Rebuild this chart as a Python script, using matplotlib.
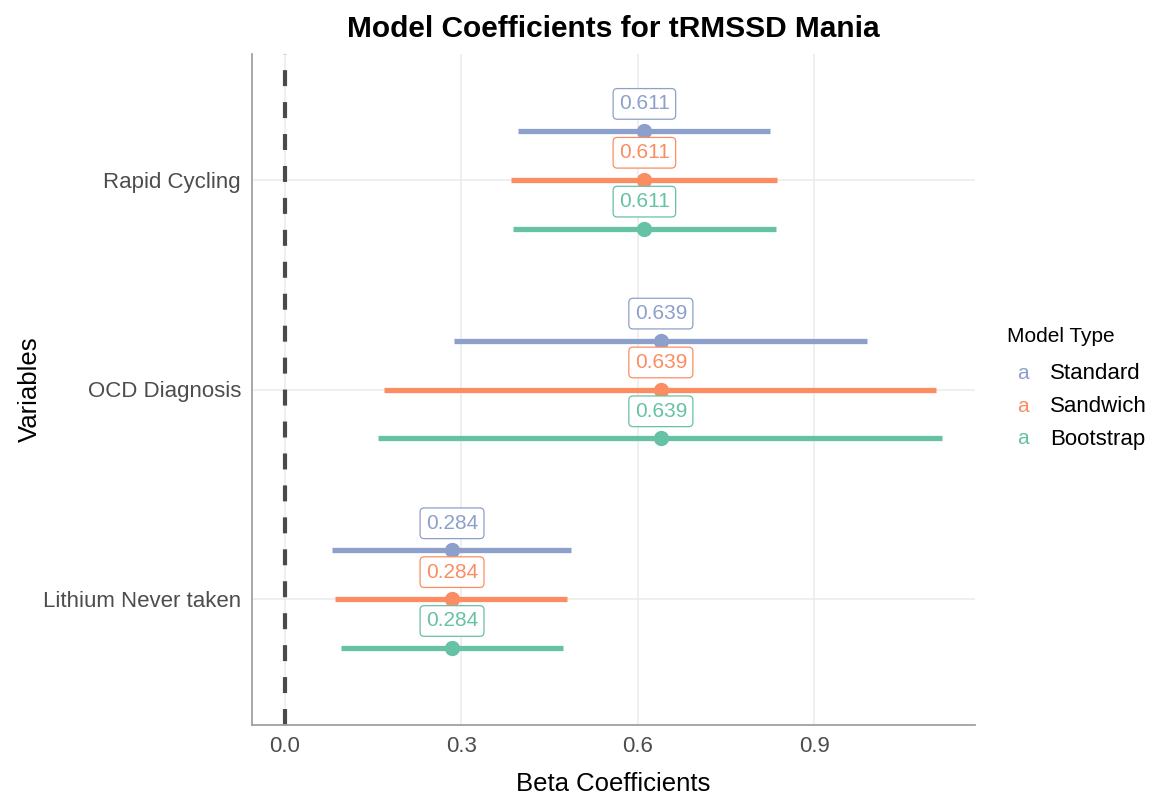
import matplotlib.pyplot as plt
import numpy as np

plt.rcParams['font.family'] = ['Liberation Sans', 'DejaVu Sans']
plt.rcParams['lines.scale_dashes'] = False

variables = ['Lithium Never taken', 'OCD Diagnosis', 'Rapid Cycling']
models = ['Standard', 'Sandwich', 'Bootstrap']
colors = {'Standard': '#8DA0CB', 'Sandwich': '#FC8D62', 'Bootstrap': '#66C2A5'}

# estimate per variable (same for all model types)
estimate = [0.284, 0.639, 0.611]
# confidence limits per model, in the order of `variables`
ci_low = {
    'Standard': [0.080, 0.287, 0.396],
    'Sandwich': [0.085, 0.168, 0.384],
    'Bootstrap': [0.095, 0.158, 0.387],
}
ci_high = {
    'Standard': [0.487, 0.990, 0.825],
    'Sandwich': [0.480, 1.107, 0.837],
    'Bootstrap': [0.472, 1.117, 0.834],
}

dodge = {'Standard': 0.233, 'Sandwich': 0.0, 'Bootstrap': -0.233}

fig = plt.figure(figsize=(11.57, 7.98), dpi=100)
ax = fig.add_axes([252 / 1157, 1 - 725 / 798, (975 - 252) / 1157, (725 - 54) / 798])

ypos = np.arange(1, len(variables) + 1)

# grid
for x in [0.0, 0.3, 0.6, 0.9]:
    ax.axvline(x, color='#EBEBEB', lw=1.1, zorder=0)
for y in ypos:
    ax.axhline(y, color='#EBEBEB', lw=1.1, zorder=0)

ax.axvline(0, color='#4A4A4A', lw=3.0, dashes=(11.5, 11.5), zorder=1)

for m in models:
    yy = ypos + dodge[m]
    ax.hlines(yy, ci_low[m], ci_high[m], color=colors[m], lw=3.8, zorder=2)
    ax.plot(estimate, yy, 'o', color=colors[m], ms=10, zorder=3)
    for e, y in zip(estimate, yy):
        ax.text(e, y + 0.129, f'{e:.3f}', color=colors[m], fontsize=15,
                ha='center', va='center', zorder=4,
                bbox=dict(boxstyle='round,pad=0.28,rounding_size=0.2', fc='white',
                          ec=colors[m], lw=0.9))

ax.set_xlim(-0.056, 1.173)
ax.set_ylim(0.4, 3.6)
ax.set_xticks([0.0, 0.3, 0.6, 0.9])
ax.set_xticklabels(['0.0', '0.3', '0.6', '0.9'])
ax.set_yticks(ypos)
ax.set_yticklabels(variables)
ax.tick_params(length=0, labelsize=16, labelcolor='#4D4D4D', pad=8)

for s in ['top', 'right']:
    ax.spines[s].set_visible(False)
for s in ['left', 'bottom']:
    ax.spines[s].set_color('#A0A0A0')
    ax.spines[s].set_linewidth(1.3)

ax.set_xlabel('Beta Coefficients', fontsize=18.5, va='center')
ax.set_ylabel('Variables', fontsize=18.5, va='center')
ax.xaxis.set_label_coords(0.5, (725 - 784) / 671)
ax.yaxis.set_label_coords((30 - 252) / 723, 0.5)
ax.set_title('Model Coefficients for tRMSSD Mania', fontsize=21.5, fontweight='bold', pad=12)

# legend with text keys
fig.text(1007 / 1157, 1 - 337 / 798, 'Model Type', fontsize=15, va='center', ha='left')
for i, m in enumerate(models):
    yl = 1 - (373 + 33 * i) / 798
    fig.text(1023 / 1157, yl, 'a', color=colors[m], fontsize=15, va='center', ha='center')
    fig.text(1050 / 1157, yl, m, fontsize=16, va='center', ha='left')

fig.savefig('out.png', dpi=100)
